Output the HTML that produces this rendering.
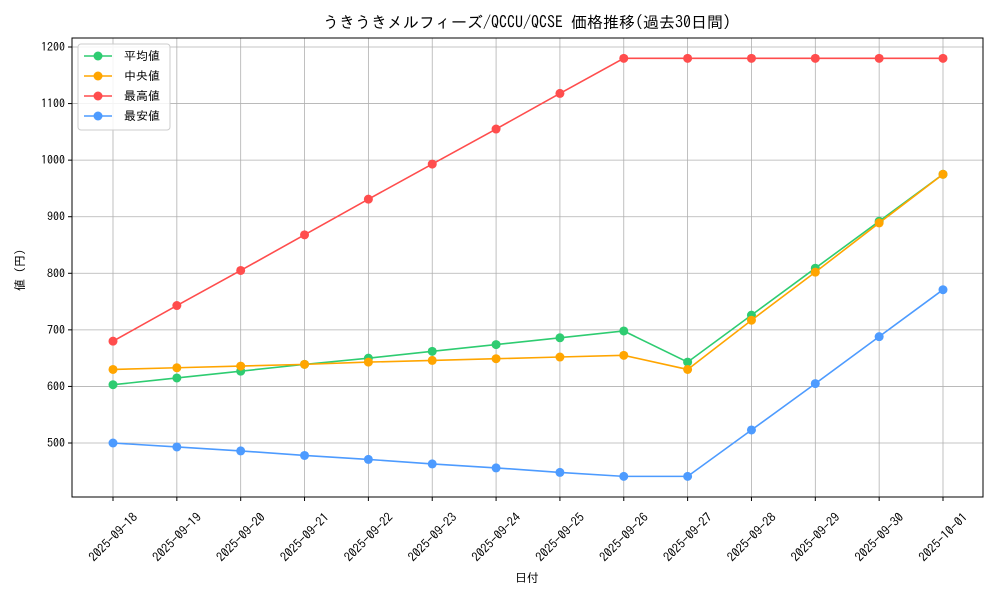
<!DOCTYPE html>
<html><head><meta charset="utf-8"><style>
body{margin:0;background:#fff;}
svg text{font-family:"IPAGothic","Noto Sans CJK JP",monospace;fill:#000;}
</style></head><body>
<svg id="chart" width="1000" height="600" xmlns="http://www.w3.org/2000/svg">
<text x="527" y="28" font-size="16" text-anchor="middle">うきうきメルフィーズ/QCCU/QCSE 価格推移(過去30日間)</text>
<text x="527" y="582" font-size="12" text-anchor="middle">日付</text>
<text transform="translate(24,270) rotate(-90)" font-size="12" text-anchor="middle">値 (円)</text>
<g id="grid"></g><g id="series"></g><g id="axes"></g>
</svg>
<script>
const categories=["2025-09-18","2025-09-19","2025-09-20","2025-09-21","2025-09-22","2025-09-23","2025-09-24","2025-09-25","2025-09-26","2025-09-27","2025-09-28","2025-09-29","2025-09-30","2025-10-01"];
const avgValues=[603,615,627,639,650,662,674,686,698,643,726,809,892,975];
const medianValues=[630,633,636,639,643,646,649,652,655,630,717,802,889,975];
const maxValues=[680,743,805,868,931,993,1055,1118,1180,1180,1180,1180,1180,1180];
const minValues=[500,493,486,478,471,463,456,448,441,441,523,605,688,771];
const yTicks=[500,600,700,800,900,1000,1100,1200];
const seriesNames=["平均値","中央値","最高値","最安値"];
const NS="http://www.w3.org/2000/svg";
const L=72,R=983,T=38,B=497;
function xs(i){return 113+i*(943-113)/(categories.length-1);}
function ys(v){return 443-(v-500)*(443-47)/700;}
function mk(tag,attrs,parent){const e=document.createElementNS(NS,tag);for(const k in attrs)e.setAttribute(k,attrs[k]);parent.appendChild(e);return e;}
const grid=document.getElementById('grid'),ser=document.getElementById('series'),ax=document.getElementById('axes');
categories.forEach((c,i)=>{
 const g=mk('line',{x1:xs(i),x2:xs(i),y1:T,y2:B,stroke:'#b0b0b0','stroke-width':0.8},grid);
 
 
 mk('line',{x1:xs(i),x2:xs(i),y1:B,y2:B+4,stroke:'#000'},ax);
 const t=mk('text',{transform:`translate(${xs(i)},${B+40}) rotate(-45)`,'font-size':12.5,'text-anchor':'middle','dominant-baseline':'central'},ax);
 t.textContent=c;
 
 
});
yTicks.forEach(v=>{
 const g=mk('line',{x1:L,x2:R,y1:ys(v),y2:ys(v),stroke:'#b0b0b0','stroke-width':0.8},grid);
 
 
 mk('line',{x1:L-4,x2:L,y1:ys(v),y2:ys(v),stroke:'#000'},ax);
 const t=mk('text',{x:L-7,y:ys(v)+4,'font-size':12,'text-anchor':'end'},ax);
 t.textContent=v;
 
 
});
const fr=mk('rect',{x:L,y:T,width:R-L,height:B-T,fill:'none',stroke:'#000','stroke-width':1},ax);


const series=[[avgValues,'#2ecc71','avg'],[medianValues,'#ffa500','median'],[maxValues,'#ff4d4d','max'],[minValues,'#4d9bff','min']];
series.forEach(([vals,col,nm])=>{
 const p=mk('polyline',{points:vals.map((v,i)=>xs(i)+','+ys(v)).join(' '),fill:'none',stroke:col,'stroke-width':1.6},ser);
 
 
 vals.forEach((v,i)=>{
  const c=mk('circle',{cx:xs(i),cy:ys(v),r:4.5,fill:col},ser);
  
  
 });
});
const lg=mk('g',{},ax);


mk('rect',{x:78,y:44,width:92,height:86,rx:3,fill:'#fff','fill-opacity':0.85,stroke:'#ccc'},lg);
series.forEach(([v,col,nm],i)=>{
 const y=56+i*20;
 const e=mk('g',{},lg);
 
 
 mk('line',{x1:84,x2:112,y1:y,y2:y,stroke:col,'stroke-width':1.6},e);
 mk('circle',{cx:98,cy:y,r:4.5,fill:col},e);
 const t=mk('text',{x:124,y:y+4,'font-size':12},e);
 t.textContent=seriesNames[i];
});
</script>
</body></html>
